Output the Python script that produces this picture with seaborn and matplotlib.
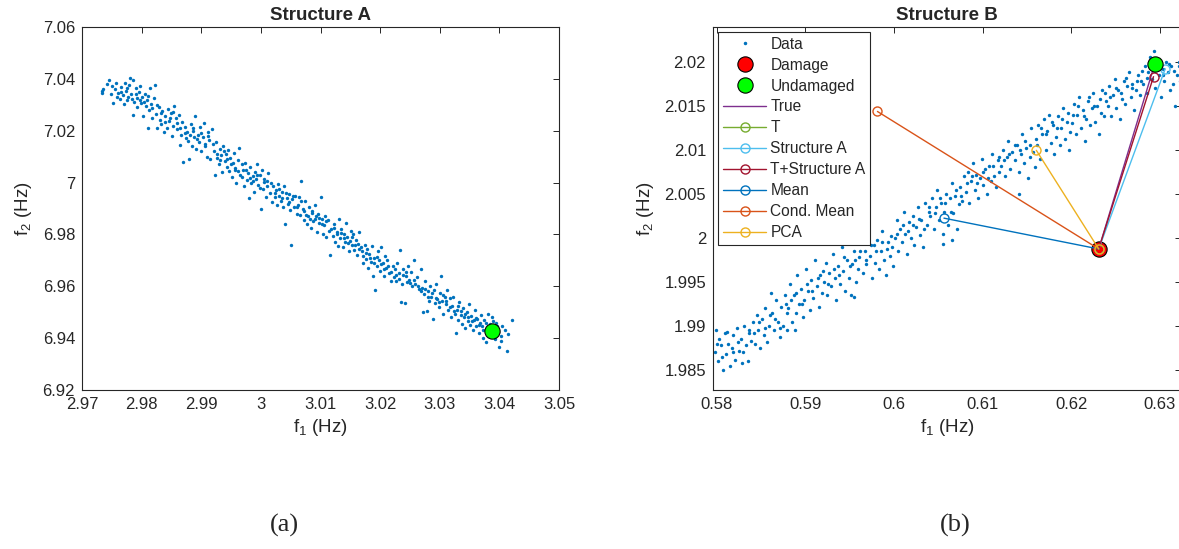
import numpy as np
import pandas as pd
import matplotlib
matplotlib.use("Agg")
import matplotlib.pyplot as plt
import seaborn as sns

# ---- data ----
# Structure A cloud, (f1, f2) in Hz
struct_a_pts = [
    (2.9733, 7.0345), (2.9734, 7.0352), (2.9742, 7.0380), (2.9745, 7.0395), (2.9750, 7.0372), (2.9752, 7.0308),
    (2.9755, 7.0360), (2.9758, 7.0330), (2.9761, 7.0345), (2.9763, 7.0322), (2.9765, 7.0368), (2.9768, 7.0338),
    (2.9770, 7.0302), (2.9772, 7.0385), (2.9774, 7.0352), (2.9776, 7.0318), (2.9777, 7.0330), (2.9779, 7.0375),
    (2.9781, 7.0405), (2.9783, 7.0340), (2.9785, 7.0395), (2.9786, 7.0262), (2.9788, 7.0310), (2.9790, 7.0365),
    (2.9792, 7.0325), (2.9793, 7.0290), (2.9795, 7.0348), (2.9797, 7.0372), (2.9799, 7.0305), (2.9801, 7.0330),
    (2.9803, 7.0255), (2.9805, 7.0340), (2.9807, 7.0295), (2.9809, 7.0318), (2.9810, 7.0212), (2.9812, 7.0280),
    (2.9814, 7.0365), (2.9816, 7.0302), (2.9818, 7.0248), (2.9820, 7.0325), (2.9822, 7.0375),
    (2.9824, 7.0265), (2.9826, 7.0210), (2.9829, 7.0290), (2.9831, 7.0240), (2.9833, 7.0225), (2.9835, 7.0275),
    (2.9838, 7.0195), (2.9840, 7.0255), (2.9842, 7.0212), (2.9844, 7.0282), (2.9846, 7.0238), (2.9849, 7.0268),
    (2.9851, 7.0180), (2.9853, 7.0220), (2.9855, 7.0295), (2.9857, 7.0248), (2.9860, 7.0205), (2.9862, 7.0262),
    (2.9864, 7.0145), (2.9866, 7.0185), (2.9868, 7.0235), (2.9870, 7.0080),
    (2.9872, 7.0215), (2.9874, 7.0170), (2.9876, 7.0195), (2.9878, 7.0160), (2.9880, 7.0090), (2.9882, 7.0225),
    (2.9884, 7.0140), (2.9886, 7.0200), (2.9888, 7.0175), (2.9890, 7.0255), (2.9892, 7.0130), (2.9894, 7.0185),
    (2.9896, 7.0158), (2.9898, 7.0215), (2.9900, 7.0120), (2.9903, 7.0175), (2.9905, 7.0228), (2.9907, 7.0150),
    (2.9909, 7.0100), (2.9911, 7.0195), (2.9913, 7.0165), (2.9915, 7.0090), (2.9918, 7.0205),
    (2.9921, 7.0120), (2.9923, 7.0030), (2.9925, 7.0155), (2.9927, 7.0095), (2.9929, 7.0070), (2.9931, 7.0130),
    (2.9933, 7.0105), (2.9935, 7.0040), (2.9937, 7.0140), (2.9939, 7.0085), (2.9941, 7.0110), (2.9943, 7.0060),
    (2.9945, 7.0125), (2.9947, 7.0045), (2.9949, 7.0095), (2.9951, 7.0020), (2.9953, 7.0075), (2.9955, 7.0115),
    (2.9957, 7.0050), (2.9959, 7.0000), (2.9961, 7.0088), (2.9963, 7.0135), (2.9965, 7.0030), (2.9968, 7.0070),
    (2.9970, 7.0048), (2.9972, 6.9985), (2.9974, 7.0075), (2.9976, 7.0010), (2.9978, 7.0035), (2.9980, 6.9940),
    (2.9982, 7.0060), (2.9984, 7.0000), (2.9986, 7.0025), (2.9988, 6.9965), (2.9990, 7.0040), (2.9992, 7.0012),
    (2.9994, 7.0070), (2.9996, 6.9990), (2.9998, 7.0028), (3.0000, 6.9900), (3.0002, 7.0050), (3.0004, 6.9975),
    (3.0006, 7.0015), (3.0008, 6.9945), (3.0010, 7.0005), (3.0012, 7.0038), (3.0015, 6.9960), (3.0018, 6.9925),
    (3.0021, 6.9985), (3.0023, 6.9945), (3.0025, 6.9970), (3.0027, 6.9915), (3.0029, 6.9995), (3.0031, 6.9950),
    (3.0033, 6.9930), (3.0035, 6.9965), (3.0037, 6.9905), (3.0039, 6.9985), (3.0041, 6.9840), (3.0043, 6.9940),
    (3.0045, 6.9918), (3.0047, 6.9955), (3.0049, 6.9895), (3.0051, 6.9760), (3.0053, 6.9935), (3.0055, 6.9905),
    (3.0058, 6.9950), (3.0060, 6.9880), (3.0062, 6.9915), (3.0064, 6.9945), (3.0066, 6.9875), (3.0068, 7.0005),
    (3.0070, 6.9900), (3.0072, 6.9855), (3.0074, 6.9930), (3.0076, 6.9875), (3.0078, 6.9840), (3.0080, 6.9905),
    (3.0082, 6.9860), (3.0084, 6.9825), (3.0086, 6.9890), (3.0088, 6.9850), (3.0090, 6.9915), (3.0092, 6.9870),
    (3.0094, 6.9810), (3.0096, 6.9880), (3.0098, 6.9845), (3.0100, 6.9945), (3.0102, 6.9860), (3.0104, 6.9800),
    (3.0106, 6.9835), (3.0108, 6.9870), (3.0110, 6.9790), (3.0113, 6.9855), (3.0116, 6.9720), (3.0118, 6.9820),
    (3.0121, 6.9795), (3.0123, 6.9840), (3.0125, 6.9770), (3.0127, 6.9810), (3.0129, 6.9755), (3.0131, 6.9860),
    (3.0133, 6.9785), (3.0135, 6.9820), (3.0137, 6.9750), (3.0139, 6.9800), (3.0141, 6.9770), (3.0143, 6.9845),
    (3.0145, 6.9790), (3.0147, 6.9735), (3.0149, 6.9775), (3.0151, 6.9815), (3.0153, 6.9760), (3.0155, 6.9800),
    (3.0157, 6.9740), (3.0159, 6.9780), (3.0161, 6.9720), (3.0163, 6.9765), (3.0165, 6.9810), (3.0168, 6.9750),
    (3.0170, 6.9735), (3.0172, 6.9690), (3.0174, 6.9760), (3.0176, 6.9705), (3.0178, 6.9745), (3.0180, 6.9670),
    (3.0182, 6.9725), (3.0184, 6.9695), (3.0186, 6.9755), (3.0188, 6.9640), (3.0190, 6.9710), (3.0192, 6.9585),
    (3.0194, 6.9680), (3.0196, 6.9735), (3.0198, 6.9700), (3.0200, 6.9660), (3.0202, 6.9750), (3.0204, 6.9690),
    (3.0206, 6.9640), (3.0208, 6.9715), (3.0210, 6.9670), (3.0212, 6.9700), (3.0215, 6.9650), (3.0218, 6.9620),
    (3.0221, 6.9680), (3.0223, 6.9635), (3.0225, 6.9665), (3.0227, 6.9620), (3.0229, 6.9690), (3.0231, 6.9650),
    (3.0233, 6.9740), (3.0235, 6.9540), (3.0237, 6.9610), (3.0239, 6.9665), (3.0241, 6.9535), (3.0243, 6.9640),
    (3.0245, 6.9615), (3.0247, 6.9680), (3.0249, 6.9625), (3.0251, 6.9655), (3.0253, 6.9600), (3.0256, 6.9700),
    (3.0259, 6.9610), (3.0262, 6.9635), (3.0265, 6.9590), (3.0268, 6.9665),
    (3.0270, 6.9595), (3.0272, 6.9500), (3.0274, 6.9570), (3.0276, 6.9620), (3.0278, 6.9505), (3.0280, 6.9580),
    (3.0282, 6.9545), (3.0284, 6.9600), (3.0286, 6.9560), (3.0288, 6.9475), (3.0290, 6.9585), (3.0292, 6.9535),
    (3.0294, 6.9610), (3.0296, 6.9550), (3.0298, 6.9520), (3.0300, 6.9575), (3.0302, 6.9640), (3.0304, 6.9545),
    (3.0306, 6.9495), (3.0308, 6.9560), (3.0310, 6.9530), (3.0312, 6.9585), (3.0314, 6.9510), (3.0317, 6.9555),
    (3.0319, 6.9480),
    (3.0321, 6.9525), (3.0323, 6.9560), (3.0325, 6.9495), (3.0327, 6.9420), (3.0329, 6.9510), (3.0331, 6.9470),
    (3.0333, 6.9540), (3.0335, 6.9490), (3.0337, 6.9455), (3.0339, 6.9515), (3.0341, 6.9480), (3.0343, 6.9440),
    (3.0345, 6.9500), (3.0347, 6.9465), (3.0349, 6.9530), (3.0351, 6.9450), (3.0353, 6.9485), (3.0355, 6.9430),
    (3.0357, 6.9470), (3.0359, 6.9510), (3.0361, 6.9445), (3.0363, 6.9475), (3.0365, 6.9420), (3.0367, 6.9460),
    (3.0369, 6.9490),
    (3.0371, 6.9445), (3.0373, 6.9400), (3.0375, 6.9470), (3.0377, 6.9385), (3.0379, 6.9430), (3.0381, 6.9495),
    (3.0383, 6.9410), (3.0385, 6.9455), (3.0387, 6.9480), (3.0389, 6.9420), (3.0391, 6.9440), (3.0393, 6.9395),
    (3.0395, 6.9460), (3.0397, 6.9425), (3.0400, 6.9365), (3.0402, 6.9410), (3.0405, 6.9445), (3.0412, 6.9350),
    (3.0415, 6.9415), (3.0422, 6.9470),
    # denser core of the band
    (2.9736, 7.0360), (2.9748, 7.0340), (2.9757, 7.0385), (2.9766, 7.0350), (2.9775, 7.0365), (2.9784, 7.0322),
    (2.9791, 7.0342), (2.9798, 7.0318), (2.9804, 7.0310), (2.9811, 7.0335), (2.9817, 7.0288), (2.9825, 7.0300),
    (2.9832, 7.0268), (2.9839, 7.0232), (2.9847, 7.0250), (2.9852, 7.0272), (2.9859, 7.0230), (2.9865, 7.0210),
    (2.9873, 7.0192), (2.9881, 7.0182), (2.9887, 7.0210), (2.9893, 7.0168), (2.9899, 7.0190), (2.9906, 7.0140),
    (2.9912, 7.0178), (2.9919, 7.0148), (2.9926, 7.0110), (2.9932, 7.0088), (2.9938, 7.0120), (2.9944, 7.0092),
    (2.9950, 7.0070), (2.9956, 7.0058), (2.9962, 7.0045), (2.9969, 7.0022), (2.9975, 7.0050), (2.9981, 7.0018),
    (2.9987, 7.0005), (2.9993, 7.0030), (2.9999, 6.9980), (3.0005, 7.0002), (3.0011, 6.9985), (3.0017, 6.9998),
    (3.0024, 6.9960), (3.0030, 6.9975), (3.0036, 6.9940), (3.0042, 6.9958), (3.0048, 6.9925), (3.0054, 6.9948),
    (3.0061, 6.9905), (3.0067, 6.9928), (3.0073, 6.9890), (3.0079, 6.9870), (3.0085, 6.9882), (3.0091, 6.9858),
    (3.0097, 6.9865), (3.0103, 6.9840), (3.0109, 6.9850), (3.0115, 6.9815), (3.0122, 6.9825), (3.0128, 6.9800),
    (3.0134, 6.9805), (3.0140, 6.9785), (3.0146, 6.9768), (3.0152, 6.9790), (3.0158, 6.9758), (3.0164, 6.9742),
    (3.0171, 6.9718), (3.0177, 6.9728), (3.0183, 6.9708), (3.0189, 6.9690), (3.0195, 6.9712), (3.0201, 6.9685),
    (3.0207, 6.9668), (3.0213, 6.9680), (3.0219, 6.9655), (3.0226, 6.9645), (3.0232, 6.9630), (3.0238, 6.9642),
    (3.0244, 6.9655), (3.0250, 6.9612), (3.0257, 6.9625), (3.0263, 6.9602), (3.0269, 6.9580), (3.0275, 6.9590),
    (3.0281, 6.9560), (3.0287, 6.9575), (3.0293, 6.9555), (3.0299, 6.9540), (3.0305, 6.9565), (3.0311, 6.9545),
    (3.0318, 6.9520), (3.0324, 6.9505), (3.0330, 6.9525), (3.0336, 6.9505), (3.0342, 6.9495), (3.0348, 6.9482),
    (3.0354, 6.9465), (3.0360, 6.9478), (3.0366, 6.9450), (3.0372, 6.9432), (3.0378, 6.9458), (3.0384, 6.9440),
    (3.0390, 6.9465), (3.0396, 6.9445), (3.0403, 6.9390), (3.0409, 6.9430),
]

# Structure B cloud, (f1, f2) in Hz
struct_b_pts = [
    (0.5798, 1.9870), (0.5799, 1.9895), (0.5801, 1.9860), (0.5803, 1.9885), (0.5805, 1.9878), (0.5807, 1.9850),
    (0.5809, 1.9892), (0.5811, 1.9868), (0.5813, 1.9880), (0.5815, 1.9855), (0.5817, 1.9875), (0.5819, 1.9890),
    (0.5821, 1.9862), (0.5823, 1.9898), (0.5825, 1.9872), (0.5827, 1.9885), (0.5829, 1.9858), (0.5831, 1.9900),
    (0.5833, 1.9878), (0.5835, 1.9860), (0.5837, 1.9892), (0.5839, 1.9883),
    (0.5841, 1.9905), (0.5843, 1.9880), (0.5845, 1.9912), (0.5847, 1.9895), (0.5849, 1.9875), (0.5851, 1.9908),
    (0.5853, 1.9890), (0.5855, 1.9920), (0.5857, 1.9882), (0.5859, 1.9900), (0.5861, 1.9938), (0.5863, 1.9915),
    (0.5865, 1.9895), (0.5867, 1.9930), (0.5869, 1.9905), (0.5871, 1.9888), (0.5873, 1.9922), (0.5875, 1.9900),
    (0.5877, 1.9935), (0.5879, 1.9915), (0.5879, 1.9895), (0.5888, 1.9895),
    (0.5881, 1.9920), (0.5883, 1.9948), (0.5885, 1.9905), (0.5887, 1.9935), (0.5889, 1.9915), (0.5891, 1.9958),
    (0.5893, 1.9925), (0.5895, 1.9942), (0.5897, 1.9910), (0.5899, 1.9930), (0.5901, 1.9965), (0.5903, 1.9940),
    (0.5905, 1.9918), (0.5907, 1.9952), (0.5909, 1.9932), (0.5911, 1.9975), (0.5913, 1.9945), (0.5915, 1.9922),
    (0.5917, 1.9958), (0.5919, 1.9938),
    (0.5921, 1.9950), (0.5923, 1.9972), (0.5925, 1.9935), (0.5927, 1.9960), (0.5929, 1.9945), (0.5931, 1.9982),
    (0.5933, 1.9955), (0.5935, 1.9930), (0.5937, 1.9968), (0.5939, 1.9948), (0.5941, 1.9990), (0.5943, 1.9962),
    (0.5945, 1.9940), (0.5947, 1.9975), (0.5949, 1.9955), (0.5951, 1.9935), (0.5953, 1.9970), (0.5955, 1.9985),
    (0.5957, 1.9950), (0.5959, 1.9965), (0.5955, 1.9933),
    (0.5961, 1.9978), (0.5963, 1.9995), (0.5965, 1.9960), (0.5967, 1.9985), (0.5969, 1.9970), (0.5971, 2.0005),
    (0.5973, 1.9980), (0.5975, 1.9955), (0.5977, 1.9992), (0.5979, 1.9972), (0.5981, 1.9998), (0.5983, 1.9965),
    (0.5985, 1.9985), (0.5987, 2.0008), (0.5989, 1.9975), (0.5991, 1.9958), (0.5993, 1.9995), (0.5995, 1.9980),
    (0.5997, 2.0002), (0.5999, 1.9968),
    (0.6001, 2.0000), (0.6003, 2.0020), (0.6005, 1.9985), (0.6007, 2.0010), (0.6009, 1.9995), (0.6011, 2.0030),
    (0.6013, 2.0005), (0.6015, 1.9982), (0.6017, 2.0018), (0.6019, 2.0000), (0.6021, 2.0025), (0.6023, 1.9992),
    (0.6025, 2.0012), (0.6027, 2.0035), (0.6029, 2.0003), (0.6031, 2.0020), (0.6033, 1.9990), (0.6035, 2.0040),
    (0.6037, 2.0015), (0.6039, 2.0030),
    (0.6041, 2.0025), (0.6043, 2.0045), (0.6045, 2.0010), (0.6047, 2.0035), (0.6049, 2.0055), (0.6051, 2.0020),
    (0.6053, 2.0040), (0.6055, 2.0005), (0.6057, 2.0030), (0.6059, 2.0050), (0.6061, 2.0015), (0.6063, 2.0045),
    (0.6065, 2.0062), (0.6067, 2.0028), (0.6069, 2.0048), (0.6071, 2.0010), (0.6073, 2.0038), (0.6075, 2.0058),
    (0.6077, 2.0042), (0.6079, 2.0070), (0.6055, 1.9993), (0.6065, 1.9998),
    (0.6081, 2.0052), (0.6083, 2.0075), (0.6085, 2.0040), (0.6087, 2.0065), (0.6089, 2.0085), (0.6091, 2.0055),
    (0.6093, 2.0072), (0.6095, 2.0045), (0.6097, 2.0068), (0.6099, 2.0090), (0.6101, 2.0060), (0.6103, 2.0078),
    (0.6105, 2.0050), (0.6107, 2.0082), (0.6109, 2.0065), (0.6111, 2.0095), (0.6113, 2.0070), (0.6115, 2.0058),
    (0.6117, 2.0088), (0.6119, 2.0075),
    (0.6121, 2.0082), (0.6123, 2.0100), (0.6125, 2.0070), (0.6127, 2.0092), (0.6129, 2.0110), (0.6131, 2.0078),
    (0.6133, 2.0098), (0.6141, 2.0050), (0.6137, 2.0088), (0.6139, 2.0105), (0.6141, 2.0075), (0.6143, 2.0095),
    (0.6145, 2.0118), (0.6147, 2.0085), (0.6149, 2.0102), (0.6151, 2.0068), (0.6153, 2.0092), (0.6155, 2.0125),
    (0.6157, 2.0098), (0.6159, 2.0080),
    (0.6161, 2.0105), (0.6163, 2.0128), (0.6165, 2.0090), (0.6167, 2.0118), (0.6169, 2.0135), (0.6171, 2.0100),
    (0.6173, 2.0122), (0.6175, 2.0140), (0.6177, 2.0108), (0.6179, 2.0128), (0.6181, 2.0095), (0.6183, 2.0115),
    (0.6185, 2.0138), (0.6187, 2.0105), (0.6189, 2.0125), (0.6191, 2.0148), (0.6193, 2.0112), (0.6195, 2.0132),
    (0.6197, 2.0100), (0.6199, 2.0120),
    (0.6201, 2.0130), (0.6203, 2.0152), (0.6205, 2.0118), (0.6207, 2.0140), (0.6209, 2.0160), (0.6211, 2.0125),
    (0.6213, 2.0145), (0.6215, 2.0110), (0.6217, 2.0135), (0.6219, 2.0155), (0.6221, 2.0128), (0.6223, 2.0148),
    (0.6225, 2.0165), (0.6227, 2.0132), (0.6229, 2.0150), (0.6231, 2.0118), (0.6233, 2.0142), (0.6235, 2.0168),
    (0.6237, 2.0138), (0.6239, 2.0155),
    (0.6241, 2.0150), (0.6243, 2.0172), (0.6245, 2.0138), (0.6247, 2.0162), (0.6249, 2.0180), (0.6251, 2.0148),
    (0.6253, 2.0168), (0.6255, 2.0135), (0.6257, 2.0158), (0.6259, 2.0178), (0.6261, 2.0152), (0.6263, 2.0172),
    (0.6265, 2.0188), (0.6267, 2.0160), (0.6269, 2.0175), (0.6271, 2.0145), (0.6273, 2.0168), (0.6275, 2.0185),
    (0.6277, 2.0162), (0.6279, 2.0178),
    (0.6281, 2.0175), (0.6283, 2.0195), (0.6285, 2.0165), (0.6287, 2.0188), (0.6289, 2.0205), (0.6291, 2.0180),
    (0.6293, 2.0212), (0.6295, 2.0170), (0.6297, 2.0198), (0.6299, 2.0185), (0.6301, 2.0160), (0.6303, 2.0192),
    (0.6305, 2.0178), (0.6307, 2.0200), (0.6309, 2.0188), (0.6311, 2.0168), (0.6313, 2.0195), (0.6315, 2.0175),
    (0.6317, 2.0150), (0.6319, 2.0185), (0.6321, 2.0200), (0.6323, 2.0178),
    # denser core of the band
    (0.5800, 1.9880), (0.5806, 1.9865), (0.5812, 1.9893), (0.5818, 1.9870), (0.5824, 1.9882), (0.5830, 1.9870),
    (0.5836, 1.9895), (0.5842, 1.9892), (0.5848, 1.9905), (0.5854, 1.9898), (0.5860, 1.9912), (0.5866, 1.9908),
    (0.5872, 1.9898), (0.5878, 1.9925), (0.5884, 1.9930), (0.5890, 1.9938), (0.5896, 1.9925), (0.5902, 1.9948),
    (0.5908, 1.9940), (0.5914, 1.9955), (0.5920, 1.9962), (0.5926, 1.9948), (0.5932, 1.9965), (0.5938, 1.9958),
    (0.5944, 1.9978), (0.5950, 1.9968), (0.5956, 1.9975), (0.5962, 1.9985), (0.5968, 1.9975), (0.5974, 1.9992),
    (0.5980, 1.9985), (0.5986, 1.9995), (0.5992, 1.9988), (0.5998, 1.9990), (0.6004, 2.0005), (0.6010, 2.0015),
    (0.6016, 2.0008), (0.6022, 2.0015), (0.6028, 2.0022), (0.6034, 2.0010), (0.6040, 2.0035), (0.6046, 2.0028),
    (0.6052, 2.0045), (0.6058, 2.0040), (0.6064, 2.0030), (0.6070, 2.0055), (0.6076, 2.0048), (0.6082, 2.0062),
    (0.6088, 2.0070), (0.6094, 2.0062), (0.6100, 2.0075), (0.6106, 2.0068), (0.6112, 2.0082), (0.6118, 2.0092),
    (0.6124, 2.0088), (0.6130, 2.0095), (0.6136, 2.0105), (0.6142, 2.0100), (0.6148, 2.0110), (0.6154, 2.0105),
    (0.6160, 2.0112), (0.6166, 2.0125), (0.6172, 2.0118), (0.6178, 2.0132), (0.6184, 2.0125), (0.6190, 2.0135),
    (0.6196, 2.0142), (0.6202, 2.0140), (0.6208, 2.0150), (0.6214, 2.0138), (0.6220, 2.0160), (0.6226, 2.0150),
    (0.6232, 2.0158), (0.6238, 2.0165), (0.6244, 2.0160), (0.6250, 2.0170), (0.6256, 2.0165), (0.6262, 2.0182),
    (0.6268, 2.0170), (0.6274, 2.0178), (0.6280, 2.0190), (0.6286, 2.0182), (0.6292, 2.0195), (0.6298, 2.0192),
    (0.6304, 2.0185), (0.6310, 2.0198), (0.6316, 2.0190), (0.6322, 2.0195),
]

undamaged_a = (3.0387, 6.9429)
damage_b = (0.6231, 1.99875)
undamaged_b = (0.6294, 2.0197)

# estimated undamaged frequencies (end points of lines from the damage point)
est_names = ["True", "T", "Structure A", "T+Structure A", "Mean", "Cond. Mean", "PCA"]
est_f1 = [0.6294, 0.6231, 0.6306, 0.62928, 0.60564, 0.59814, 0.61606]
est_f2 = [2.0197, 1.99875, 2.0192, 2.01831, 2.00225, 2.01436, 2.00995]
est_colors = ["#7E2F8E", "#77AC30", "#4DBEEE", "#A2142F", "#0072BD", "#D95319", "#EDB120"]

a_xticks = [2.97, 2.98, 2.99, 3.00, 3.01, 3.02, 3.03, 3.04, 3.05]
a_yticks = [6.92, 6.94, 6.96, 6.98, 7.00, 7.02, 7.04, 7.06]
b_xticks = [0.58, 0.59, 0.60, 0.61, 0.62, 0.63]
b_yticks = [1.985, 1.99, 1.995, 2.0, 2.005, 2.01, 2.015, 2.02]

# ---- style ----
sns.set_style("white")
plt.rcParams['font.family'] = ['Liberation Sans', 'DejaVu Sans']
plt.rcParams['mathtext.default'] = 'regular'
plt.rcParams['axes.linewidth'] = 0.8
plt.rcParams['axes.edgecolor'] = '#262626'

dot_color = "#0072BD"
W, H = 1179, 549
fig = plt.figure(figsize=(W / 100, H / 100), dpi=100)


def px_axes(x0, x1, y0, y1):
    return fig.add_axes([x0 / W, 1 - y1 / H, (x1 - x0) / W, (y1 - y0) / H])


def style_axes(ax, xticks, yticks, title):
    ax.set_xticks(xticks)
    ax.set_yticks(yticks)
    ax.set_xticklabels(["%g" % v for v in xticks])
    ax.set_yticklabels(["%g" % v for v in yticks])
    ax.tick_params(direction="in", length=4, width=0.7, top=True, right=True,
                   labelsize=12, colors="#262626", pad=5)
    for s in ax.spines.values():
        s.set_visible(True)
        s.set_color("#262626")
    ax.set_xlabel("f$_1$ (Hz)", fontsize=13.5, color="#262626", labelpad=4)
    ax.set_ylabel("f$_2$ (Hz)", fontsize=13.5, color="#262626", labelpad=6)
    ax.set_title(title, fontsize=13.5, fontweight="bold", pad=5)


# ---- panel (a) ----
ax1 = px_axes(82, 559, 27, 390)
df_a = pd.DataFrame(struct_a_pts, columns=["f1", "f2"])
sns.scatterplot(data=df_a, x="f1", y="f2", ax=ax1, s=6, color=dot_color, linewidth=0)
ax1.plot(*undamaged_a, "o", ms=11, mfc="#00FF00", mec="k", mew=0.8)
ax1.set_xlim(2.97, 3.05)
ax1.set_ylim(6.92, 7.06)
style_axes(ax1, a_xticks, a_yticks, "Structure A")

# ---- panel (b) ----
ax2 = px_axes(713, 1181, 27, 390)
df_b = pd.DataFrame(struct_b_pts, columns=["f1", "f2"])
sns.scatterplot(data=df_b, x="f1", y="f2", ax=ax2, s=6, color=dot_color, linewidth=0)
h_data = ax2.plot([], [], ".", ms=3, color=dot_color, label="Data")[0]
h_dmg = ax2.plot(*damage_b, "o", ms=11, mfc="#FF0000", mec="k", mew=0.8, label="Damage", zorder=3)[0]

est_handles = []
for name, fx, fy, c in zip(est_names, est_f1, est_f2, est_colors):
    marker = "" if name == "True" else "o"
    h = ax2.plot([damage_b[0], fx], [damage_b[1], fy], marker=marker, ms=6.5, mfc="none",
                 mew=1.0, color=c, lw=1.0, label=name, zorder=4)[0]
    est_handles.append(h)

h_und = ax2.plot(*undamaged_b, "o", ms=11, mfc="#00FF00", mec="k", mew=0.8, label="Undamaged", zorder=5)[0]
ax2.set_xlim(0.57959, 0.63238)
ax2.set_ylim(1.98274, 2.02395)
style_axes(ax2, b_xticks, b_yticks, "Structure B")

leg = ax2.legend(handles=[h_data, h_dmg, h_und] + est_handles, loc="upper left",
                 bbox_to_anchor=(0.011, 0.986), borderaxespad=0, fontsize=11.2,
                 frameon=True, fancybox=False, framealpha=1, edgecolor="#262626",
                 handlelength=2.8, handletextpad=0.25, labelspacing=0.38,
                 borderpad=0.3, numpoints=1)
leg.get_frame().set_linewidth(0.8)
leg.set_zorder(10)

fig.text(284 / W, 1 - 525 / H, "(a)", ha="center", va="center",
         family="Liberation Serif", fontsize=19)
fig.text(955 / W, 1 - 525 / H, "(b)", ha="center", va="center",
         family="Liberation Serif", fontsize=19)

fig.savefig("out.png", dpi=100)
